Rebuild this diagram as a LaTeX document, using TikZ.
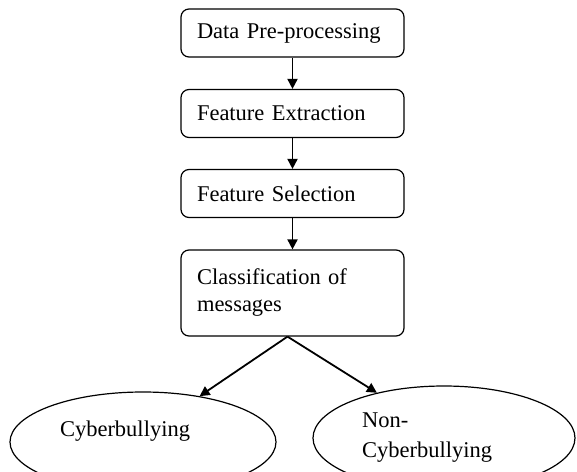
\documentclass[tikz,border=0pt]{standalone}
\usepackage{fontspec}
\setmainfont{Liberation Serif}
\usetikzlibrary{shapes.geometric,arrows.meta,positioning}

\begin{document}
\begin{tikzpicture}[x=0.5pt,y=-0.5pt,
  font=\fontsize{11.25}{12.5}\selectfont,
  stage/.style={draw,rounded corners=4pt,line width=0.6pt,minimum width=111.5pt,minimum height=24pt,text width=95.5pt,inner xsep=8pt,align=left},
  leaf/.style={draw,ellipse,line width=0.6pt,inner sep=0pt},
  flow/.style={-{Triangle[length=5pt,width=5pt]},line width=0.9pt}]
\useasboundingbox (0,0) rectangle (577,471);
\clip (0,0) rectangle (577,471);
% pipeline stages
\node[stage] (prep) at (292.5,33) {Data Pre-processing};
\node[stage] (extr) at (292.5,113.5) {Feature Extraction};
\node[stage] (sel) at (292.5,193.5) {Feature Selection};
\node[stage,minimum height=43pt] (cls) at (292.5,293) {Classification of\\[1pt]messages};
% outcomes
\node[leaf,minimum width=133pt,minimum height=50pt,
  label={[xshift=-9pt,yshift=5.5pt]center:Cyberbullying}] (cyb) at (143,442) {};
\node[leaf,minimum width=131pt,minimum height=52pt,
  label={[xshift=-8.5pt,align=left]center:Non-\\[2.5pt]Cyberbullying}] (noncyb) at (444,438) {};
\draw[flow] (prep) -- (extr);
\draw[flow] (extr) -- (sel);
\draw[flow] (sel) -- (cls);
\draw[flow] ([xshift=-2.5pt]cls.south) -- (cyb.39);
\draw[flow] ([xshift=-2.5pt]cls.south) -- (noncyb.146);
\end{tikzpicture}
\end{document}
